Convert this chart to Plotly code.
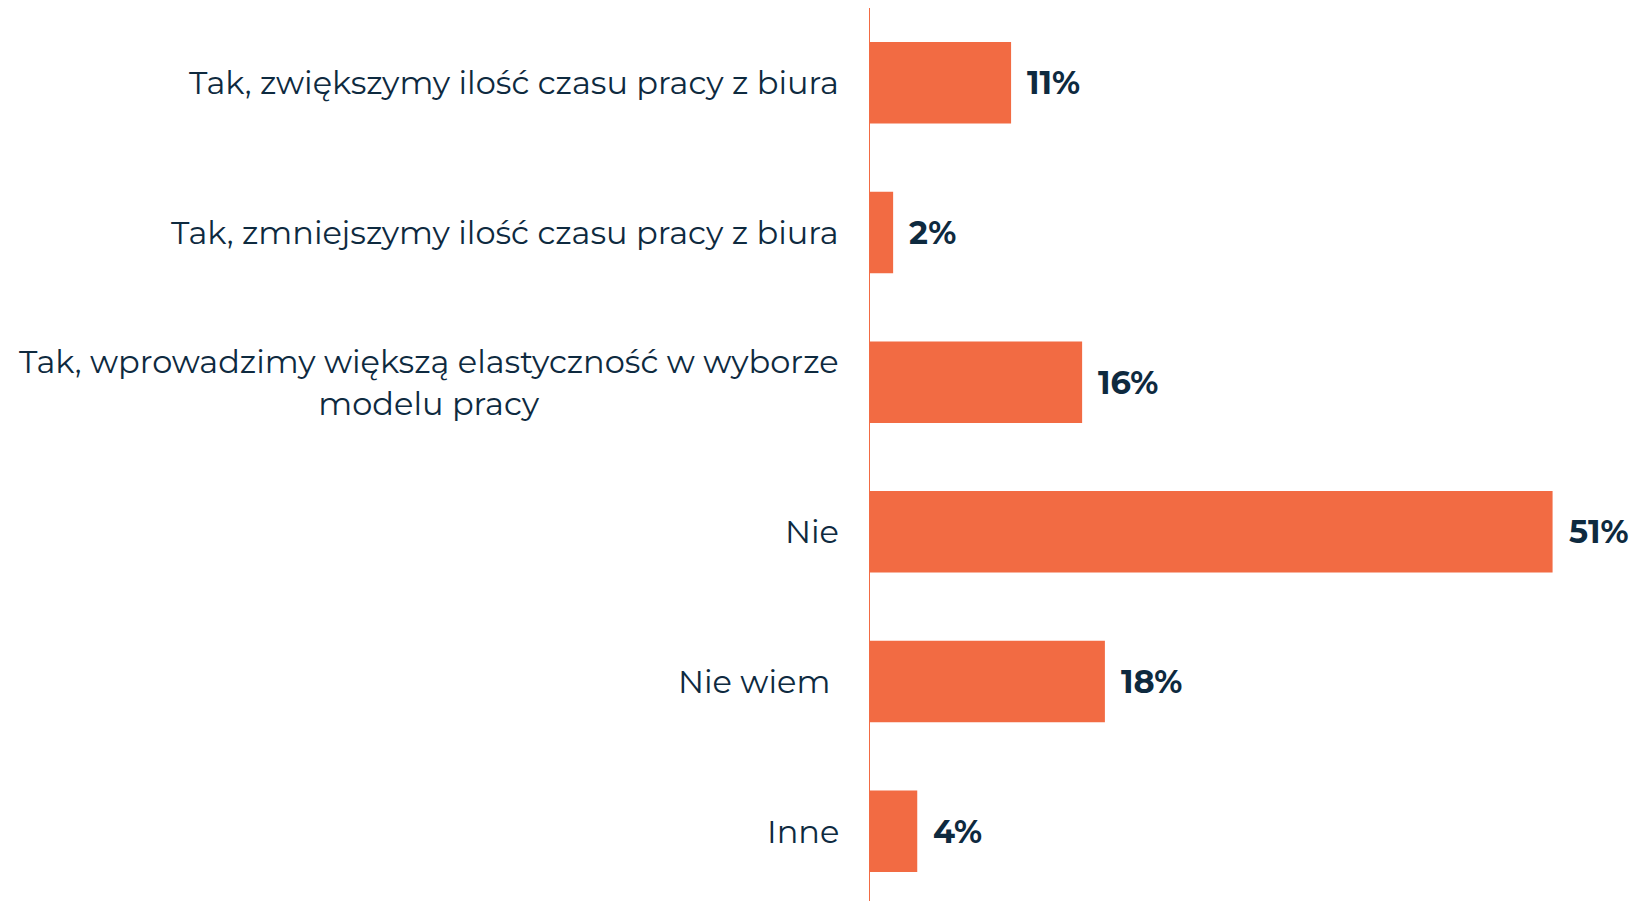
import plotly.graph_objects as go

categories = [
    "Tak, zwiększymy ilość czasu pracy z biura",
    "Tak, zmniejszymy ilość czasu pracy z biura",
    "Tak, wprowadzimy większą elastyczność w wyborze<br>modelu pracy",
    "Nie",
    "Nie wiem\u00a0",
    "Inne",
]
# bar lengths (labels are rounded)
values = [10.6, 1.8, 15.9, 51.0, 17.6, 3.6]
value_labels = ["11%", "2%", "16%", "51%", "18%", "4%"]

BAR = "#F26B43"
TEXT = "#0E2A3F"
FONT = "Montserrat, 'Open Sans', sans-serif"

fig = go.Figure(
    go.Bar(
        x=values,
        y=categories,
        orientation="h",
        marker=dict(color=BAR, line=dict(width=0)),
        hoverinfo="skip",
    )
)

for c, v, t in zip(categories, values, value_labels):
    fig.add_annotation(
        x=v, y=c, xref="x", yref="y", text=f"<b>{t}</b>",
        showarrow=False, xanchor="left", xshift=14,
        font=dict(family=FONT, size=32, color=TEXT),
    )
    fig.add_annotation(
        x=0, y=c, xref="x", yref="y", text=c,
        showarrow=False, xanchor="right", xshift=-28, align="center",
        font=dict(family=FONT, size=32, color=TEXT),
    )

fig.update_layout(
    width=1637,
    height=901,
    margin=dict(l=861, r=12, t=0, b=0),
    paper_bgcolor="white",
    plot_bgcolor="white",
    bargap=0.455,
    showlegend=False,
    xaxis=dict(range=[0, 57], visible=False, fixedrange=True),
    yaxis=dict(
        categoryorder="array",
        categoryarray=categories,
        range=[5.52, -0.5],
        showticklabels=False,
        showgrid=False,
        zeroline=False,
        showline=False,
        ticks="",
    ),
)
fig.add_shape(
    type="line", xref="x", yref="paper", x0=0, x1=0, y0=0, y1=1,
    line=dict(color=BAR, width=2),
)

fig.write_html("out.html")
